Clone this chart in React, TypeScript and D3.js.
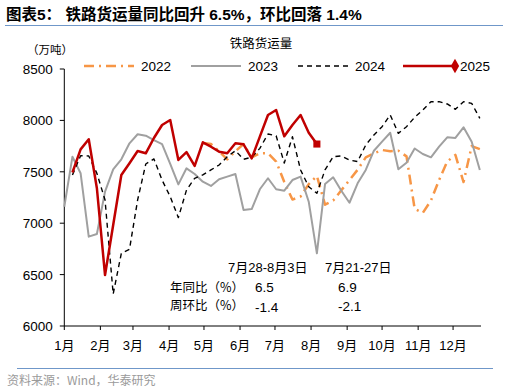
import { useMemo } from "react";
import * as d3 from "d3";

const WIDTH = 509;
const HEIGHT = 392;
const PLOT = { left: 64.3, right: 481, top: 69, bottom: 326 };

const NUM_FONT = "'Liberation Sans', Arial, 'Noto Sans CJK SC', sans-serif";
const CJK_FONT = "'Noto Sans CJK SC', 'Liberation Sans', sans-serif";

// weekly data, week i falls on START + 7*(offset+i) days (common calendar)
const START = new Date(2023, 0, 1);
const END = new Date(2023, 11, 25);

const MONTH_LABELS = ["1月", "2月", "3月", "4月", "5月", "6月", "7月", "8月", "9月", "10月", "11月", "12月"];
const Y_TICKS = [6000, 6500, 7000, 7500, 8000, 8500];

const v2022 = [
  7780, 7770, 7700, 7620, 7700, 7770, 7640, 7680, 7680, 7600, 7400, 7230, 7260, 7380, 7460, 7180, 7220,
  7320, 7420, 7520, 7640, 7680, 7712, 7700, 7705, 7650, 7140, 7100, 7220, 7420, 7600, 7664, 7400, 7750, 7720,
];
const v2023 = [
  7160, 7647, 7486, 6869, 6895, 7307, 7524, 7622, 7777, 7865, 7851, 7809, 7770, 7576, 7378, 7534, 7479, 7404,
  7362, 7427, 7453, 7479, 7128, 7138, 7330, 7437, 7330, 7316, 7420, 7453, 7209, 6707, 7381, 7446, 7316, 7199,
  7388, 7518, 7705, 7793, 7880, 7524, 7589, 7727, 7673, 7641, 7744, 7835, 7829, 7933, 7793, 7518,
];
const v2024 = [
  7469, 7657, 7654, 7485, 7226, 6311, 6707, 6746, 7226, 7576, 7625, 7420, 7258, 7054, 7323, 7437, 7470, 7518,
  7566, 7647, 7705, 7622, 7641, 7728, 7868, 7850, 7586, 7842, 7518, 7355, 7291, 7518, 7647, 7654, 7615, 7599,
  7761, 7858, 7939, 8053, 7874, 7939, 8030, 8101, 8182, 8182, 8160, 8108, 8182, 8166, 8019,
];
const v2025 = [
  7493, 7718, 7816, 7340, 6496, 6983, 7469, 7583, 7702, 7680, 7829, 7955, 8004, 7615, 7692, 7557, 7787, 7744,
  7696, 7680, 7777, 7767, 7631, 7842, 8053, 8101, 7845, 7955, 8053, 7880, 7770,
];

const SERIES = [
  { name: "2022", offset: 17, values: v2022, color: "#F79646", width: 2.5, dash: "10,5,2,5" },
  { name: "2023", offset: 0, values: v2023, color: "#A0A0A0", width: 2, dash: "" },
  { name: "2024", offset: 1, values: v2024, color: "#000000", width: 1.4, dash: "5,4" },
  { name: "2025", offset: 1, values: v2025, color: "#C00000", width: 2.5, dash: "" },
];

const TABLE_HEAD = ["7月28-8月3日", "7月21-27日"];
const TABLE_ROWS = [
  { label: "年同比（%）", values: ["6.5", "6.9"] },
  { label: "周环比（%）", values: ["-1.4", "-2.1"] },
];

const weekDate = (k: number) => d3.timeDay.offset(START, 7 * k);

export default function App() {
  const xScale = useMemo(
    () => d3.scaleTime().domain([START, END]).range([PLOT.left, PLOT.right]),
    []
  );
  const yScale = useMemo(
    () => d3.scaleLinear().domain([6000, 8500]).range([PLOT.bottom, PLOT.top]),
    []
  );
  const monthTicks = d3.timeMonth.range(START, END);

  const lines = SERIES.map((s) => {
    const gen = d3
      .line<number>()
      .x((_, i) => xScale(weekDate(s.offset + i)))
      .y((d) => yScale(d));
    return { ...s, path: gen(s.values) || "" };
  });

  const last2025 = v2025.length - 1;
  const markX = xScale(weekDate(1 + last2025));
  const markY = yScale(v2025[last2025]);

  const legendX = [84, 191, 298, 403];
  const diamond = d3.symbol(d3.symbolDiamond, 60)() || "";
  const square = d3.symbol(d3.symbolSquare, 50)() || "";

  return (
    <svg
      width={WIDTH}
      height={HEIGHT}
      style={{ position: "absolute", left: 0, top: 0, background: "#fff" }}
    >
      {/* title */}
      <text x={6} y={20} fontFamily={NUM_FONT} fontWeight="bold" fontSize={15.5} fill="#000">
        图表5： 铁路货运量同比回升 6.5%，环比回落 1.4%
      </text>
      <line x1={5} x2={503} y1={25.5} y2={25.5} stroke="#6F97C9" strokeWidth={1} />

      <text x={50} y={54} textAnchor="middle" fontFamily={CJK_FONT} fontSize={11.5} fill="#000">
        （万吨）
      </text>
      <text x={261} y={47.5} textAnchor="middle" fontFamily={CJK_FONT} fontSize={12.5} fill="#000">
        铁路货运量
      </text>

      {/* legend */}
      {SERIES.map((s, i) => (
        <g key={s.name}>
          <line
            x1={legendX[i]}
            x2={legendX[i] + 50}
            y1={66}
            y2={66}
            stroke={s.color}
            strokeWidth={s.width}
            strokeDasharray={s.dash || undefined}
          />
          {i === 3 && <path d={diamond} transform={`translate(${legendX[i] + 52},66)`} fill={s.color} />}
          <text
            x={legendX[i] + 57}
            y={71}
            fontFamily={NUM_FONT}
            fontSize={13.5}
            fill="#000"
          >
            {s.name}
          </text>
        </g>
      ))}

      {/* y axis */}
      <line x1={PLOT.left} x2={PLOT.left} y1={PLOT.top} y2={PLOT.bottom} stroke="#000" />
      {Y_TICKS.map((t) => (
        <g key={t}>
          <line x1={PLOT.left - 4.5} x2={PLOT.left} y1={yScale(t)} y2={yScale(t)} stroke="#000" />
          <text
            x={PLOT.left - 11.5}
            y={yScale(t) + 5}
            textAnchor="end"
            fontFamily={NUM_FONT}
            fontSize={13.5}
            fill="#000"
          >
            {t}
          </text>
        </g>
      ))}

      {/* x axis */}
      <line x1={PLOT.left} x2={PLOT.right} y1={PLOT.bottom} y2={PLOT.bottom} stroke="#000" />
      {monthTicks.map((d, i) => (
        <g key={i}>
          <line x1={xScale(d)} x2={xScale(d)} y1={PLOT.bottom} y2={PLOT.bottom + 4} stroke="#000" />
          <text
            x={xScale(d)}
            y={350}
            textAnchor="middle"
            fontFamily={NUM_FONT}
            fontSize={13}
            fill="#000"
          >
            {MONTH_LABELS[i]}
          </text>
        </g>
      ))}

      {/* series */}
      {lines.map((l) => (
        <path
          key={l.name}
          d={l.path}
          fill="none"
          stroke={l.color}
          strokeWidth={l.width}
          strokeDasharray={l.dash || undefined}
          strokeLinejoin="round"
        />
      ))}
      <path d={square} transform={`translate(${markX},${markY})`} fill="#C00000" />

      {/* table */}
      <text x={228} y={272} fontFamily={NUM_FONT} fontSize={13} fill="#000">
        {TABLE_HEAD[0]}
      </text>
      <text x={325} y={272} fontFamily={NUM_FONT} fontSize={13} fill="#000">
        {TABLE_HEAD[1]}
      </text>
      {TABLE_ROWS.map((r, i) => (
        <g key={r.label}>
          <text x={170} y={292 + i * 18} fontFamily={CJK_FONT} fontSize={12.5} fill="#000">
            {r.label}
          </text>
          <text x={255} y={292 + i * 20} fontFamily={NUM_FONT} fontSize={13.5} fill="#000">
            {r.values[0]}
          </text>
          <text x={338} y={292 + i * 18.5} fontFamily={NUM_FONT} fontSize={13.5} fill="#000">
            {r.values[1]}
          </text>
        </g>
      ))}

      {/* source */}
      <line x1={17} x2={493} y1={368.5} y2={368.5} stroke="#6F97C9" strokeWidth={1} />
      <text x={7} y={385} fontFamily={CJK_FONT} fontSize={12} fill="#9A9A9A">
        资料来源：Wind，华泰研究
      </text>
    </svg>
  );
}
